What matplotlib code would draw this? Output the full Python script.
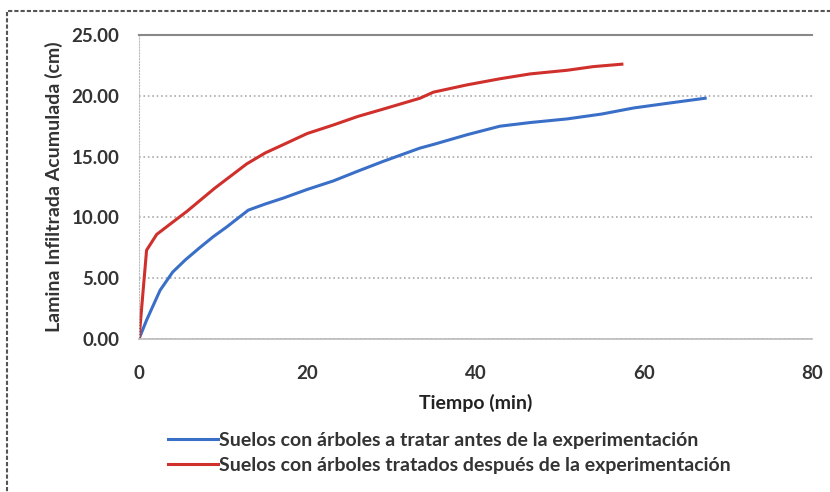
import matplotlib.pyplot as plt
from matplotlib.patches import Rectangle

plt.rcParams['font.family'] = ['Lato', 'DejaVu Sans']

# Blue: soils with trees before treatment
t_antes = [0, 0.9, 2.5, 4.0, 5.5, 7.2, 8.8, 10.4, 13.0, 15.0, 17.2, 20.0, 23.1, 26.0,
           29.0, 33.4, 35.0, 39.0, 42.9, 46.5, 50.9, 55.0, 58.8, 63.0, 67.3]
l_antes = [0, 1.55, 4.0, 5.5, 6.5, 7.5, 8.4, 9.2, 10.6, 11.1, 11.6, 12.3, 13.0, 13.8,
           14.6, 15.7, 16.0, 16.8, 17.5, 17.8, 18.1, 18.5, 19.0, 19.4, 19.8]

# Red: soils with treated trees after treatment
t_despues = [0, 0.9, 2.1, 3.8, 5.7, 9.0, 12.8, 15.0, 17.2, 20.0, 23.1, 26.0, 29.0,
             33.4, 35.0, 39.0, 42.9, 46.5, 50.9, 54.0, 57.4]
l_despues = [0, 7.3, 8.6, 9.5, 10.5, 12.4, 14.4, 15.3, 16.0, 16.9, 17.6, 18.3, 18.9,
             19.8, 20.3, 20.9, 21.4, 21.8, 22.1, 22.4, 22.6]

labels = ["Suelos con árboles a tratar antes de la experimentación",
          "Suelos con árboles tratados después de la experimentación"]
yticks = [0, 5, 10, 15, 20, 25]
xticks = [0, 20, 40, 60, 80]

fig = plt.figure(figsize=(8.3, 4.92), dpi=100)
ax = fig.add_axes([139 / 830, 1 - 339 / 492, 673 / 830, 304 / 492])

l1, = ax.plot(t_antes, l_antes, color='#3a6fc8', lw=2.2)
l2, = ax.plot(t_despues, l_despues, color='#d0302c', lw=2.2)

ax.set_xlim(0, 80)
ax.set_ylim(0, 25)
ax.set_xticks(xticks)
ax.set_yticks(yticks)
ax.set_yticklabels([f"{v:.2f}" for v in yticks])
ax.tick_params(length=0, labelsize=13.5, colors='#333333')
ax.tick_params(axis='x', pad=19)
ax.tick_params(axis='y', pad=14)
for lab in ax.get_xticklabels() + ax.get_yticklabels():
    lab.set_fontweight('bold')
ax.yaxis.grid(True, color='#aaaaaa', ls=':', lw=1.2)
ax.set_axisbelow(True)

ax.spines['right'].set_visible(False)
ax.spines['top'].set_color('#888888')
ax.spines['top'].set_linewidth(1.5)
ax.spines['bottom'].set_color('#bbbbbb')
ax.spines['bottom'].set_linewidth(1.2)
ax.spines['left'].set_color('#bbbbbb')
ax.spines['left'].set_linestyle(':')

ax.set_xlabel("Tiempo (min)", fontsize=14, fontweight='bold', color='#222222', labelpad=8)
ax.set_ylabel("Lamina Infiltrada Acumulada (cm)", fontsize=14, fontweight='bold',
              color='#333333', labelpad=6)

fig.legend([l1, l2], labels, loc='upper left', bbox_to_anchor=(160 / 830, 1 - 424 / 492),
           frameon=False, handlelength=2.6, handletextpad=0.05,
           labelspacing=0.4, borderaxespad=0, labelcolor='#333333',
           prop={'weight': 'bold', 'size': 14})

# dashed outer chart border
fig.patches.append(Rectangle((7 / 830, -0.05), 1.05, 1 - 11 / 492 + 0.05,
                             transform=fig.transFigure, fill=False,
                             ec='#555555', lw=1.5, ls=(0, (2, 1))))

fig.savefig('out.png', dpi=100)
